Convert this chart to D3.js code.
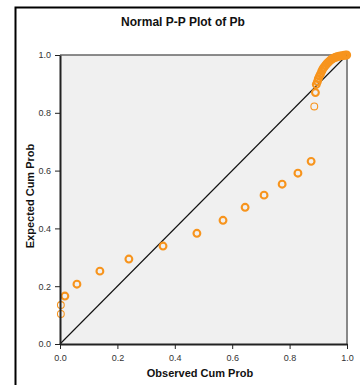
<!DOCTYPE html>
<html>
<head>
<meta charset="utf-8">
<script src="https://cdn.jsdelivr.net/npm/d3@7"></script>
<style>
  html, body { margin: 0; padding: 0; background: #fff; }
  svg { display: block; font-family: "Liberation Sans", Arial, sans-serif; }
</style>
</head>
<body>
<svg id="chart" width="360" height="385"></svg>
<script>
// Observed vs expected cumulative probabilities for Pb
const observed = [0.003, 0.003, 0.017, 0.059, 0.139, 0.240, 0.359, 0.477, 0.568, 0.645,
  0.711, 0.774, 0.829, 0.875, 0.886, 0.890, 0.893, 0.897, 0.900, 0.904, 0.908, 0.912,
  0.916, 0.920, 0.925, 0.929, 0.934, 0.939, 0.944, 0.949, 0.955, 0.960, 0.966, 0.972,
  0.978, 0.984, 0.990, 0.995, 0.999];
const expected = [0.104, 0.135, 0.166, 0.207, 0.252, 0.294, 0.339, 0.383, 0.428, 0.473,
  0.515, 0.553, 0.591, 0.632, 0.822, 0.870, 0.898, 0.908, 0.918, 0.927, 0.935, 0.944,
  0.952, 0.958, 0.964, 0.969, 0.974, 0.979, 0.983, 0.987, 0.990, 0.992, 0.994, 0.996,
  0.997, 0.998, 0.999, 0.9995, 1.0];
// number of cases sharing each point
const ties = [1, 1, 2, 2, 2, 2, 2, 2, 2, 2, 2, 2, 2, 2, 1, 2, 2, 2, 2, 2, 2, 2,
  2, 2, 2, 2, 2, 2, 2, 2, 2, 2, 2, 2, 2, 2, 2, 2, 2];
const tickValues = [0.0, 0.2, 0.4, 0.6, 0.8, 1.0];

const titleText = "Normal P-P Plot of Pb";
const xTitle = "Observed Cum Prob";
const yTitle = "Expected Cum Prob";

const svg = d3.select("#chart");
const plotL = 60, plotR = 347, plotT = 55, plotB = 344;

const x = d3.scaleLinear().domain([0, 1]).range([plotL, plotR]);
const y = d3.scaleLinear().domain([0, 1]).range([plotB, plotT]);

// outer chart frame
svg.append("rect")
  .attr("x", 15.5).attr("y", 7.5).attr("width", 420).attr("height", 420)
  .attr("fill", "none").attr("stroke", "#000").attr("stroke-width", 2);

// title
svg.append("text")
  .attr("x", 183).attr("y", 26)
  .attr("text-anchor", "middle")
  .attr("font-size", 12).attr("font-weight", "bold").attr("fill", "#111")
  .text(titleText);

// plot background
svg.append("rect")
  .attr("x", plotL).attr("y", plotT)
  .attr("width", plotR - plotL).attr("height", plotB - plotT)
  .attr("fill", "#f0f0f0");

// top and right frame lines
svg.append("line")
  .attr("x1", plotL).attr("x2", plotR).attr("y1", plotT).attr("y2", plotT)
  .attr("stroke", "#666").attr("stroke-width", 1.5);
svg.append("line")
  .attr("x1", plotR).attr("x2", plotR).attr("y1", plotT).attr("y2", plotB)
  .attr("stroke", "#888").attr("stroke-width", 2);

// reference diagonal
svg.append("line")
  .attr("x1", x(0)).attr("y1", y(0)).attr("x2", x(1)).attr("y2", y(1))
  .attr("stroke", "#111").attr("stroke-width", 1.1);

// points
const pts = observed.map((d, i) => ({ o: d, e: expected[i], n: ties[i] }));
svg.append("g").selectAll("circle")
  .data(pts)
  .join("circle")
  .attr("cx", d => x(d.o))
  .attr("cy", d => y(d.e))
  .attr("r", 3.4)
  .attr("fill", "none")
  .attr("stroke", "#f7941d")
  .attr("stroke-width", d => d.n > 1 ? 2.1 : 1.1);

// axes
const xAxis = d3.axisBottom(x).tickValues(tickValues).tickFormat(d3.format(".1f"))
  .tickSize(5).tickSizeOuter(0);
const yAxis = d3.axisLeft(y).tickValues(tickValues).tickFormat(d3.format(".1f"))
  .tickSize(5).tickSizeOuter(0);

const gx = svg.append("g").attr("transform", `translate(0,${plotB})`).call(xAxis);
const gy = svg.append("g").attr("transform", `translate(${plotL},0)`).call(yAxis);

[gx, gy].forEach(g => {
  g.select(".domain").attr("stroke", "#222").attr("stroke-width", 2);
  g.selectAll(".tick line").attr("stroke", "#222").attr("stroke-width", 1);
  g.selectAll(".tick text")
    .attr("font-family", "'Liberation Sans', Arial, sans-serif")
    .attr("font-size", 9).attr("fill", "#333");
});
gx.selectAll(".tick text").attr("dy", "0.95em");
gy.selectAll(".tick text").attr("dx", "-0.1em");

// axis titles
svg.append("text")
  .attr("x", 200).attr("y", 377)
  .attr("text-anchor", "middle")
  .attr("font-size", 11).attr("font-weight", "bold").attr("fill", "#111")
  .text(xTitle);
svg.append("text")
  .attr("transform", "translate(34,196) rotate(-90)")
  .attr("text-anchor", "middle")
  .attr("font-size", 11).attr("font-weight", "bold").attr("fill", "#111")
  .text(yTitle);
</script>
</body>
</html>
